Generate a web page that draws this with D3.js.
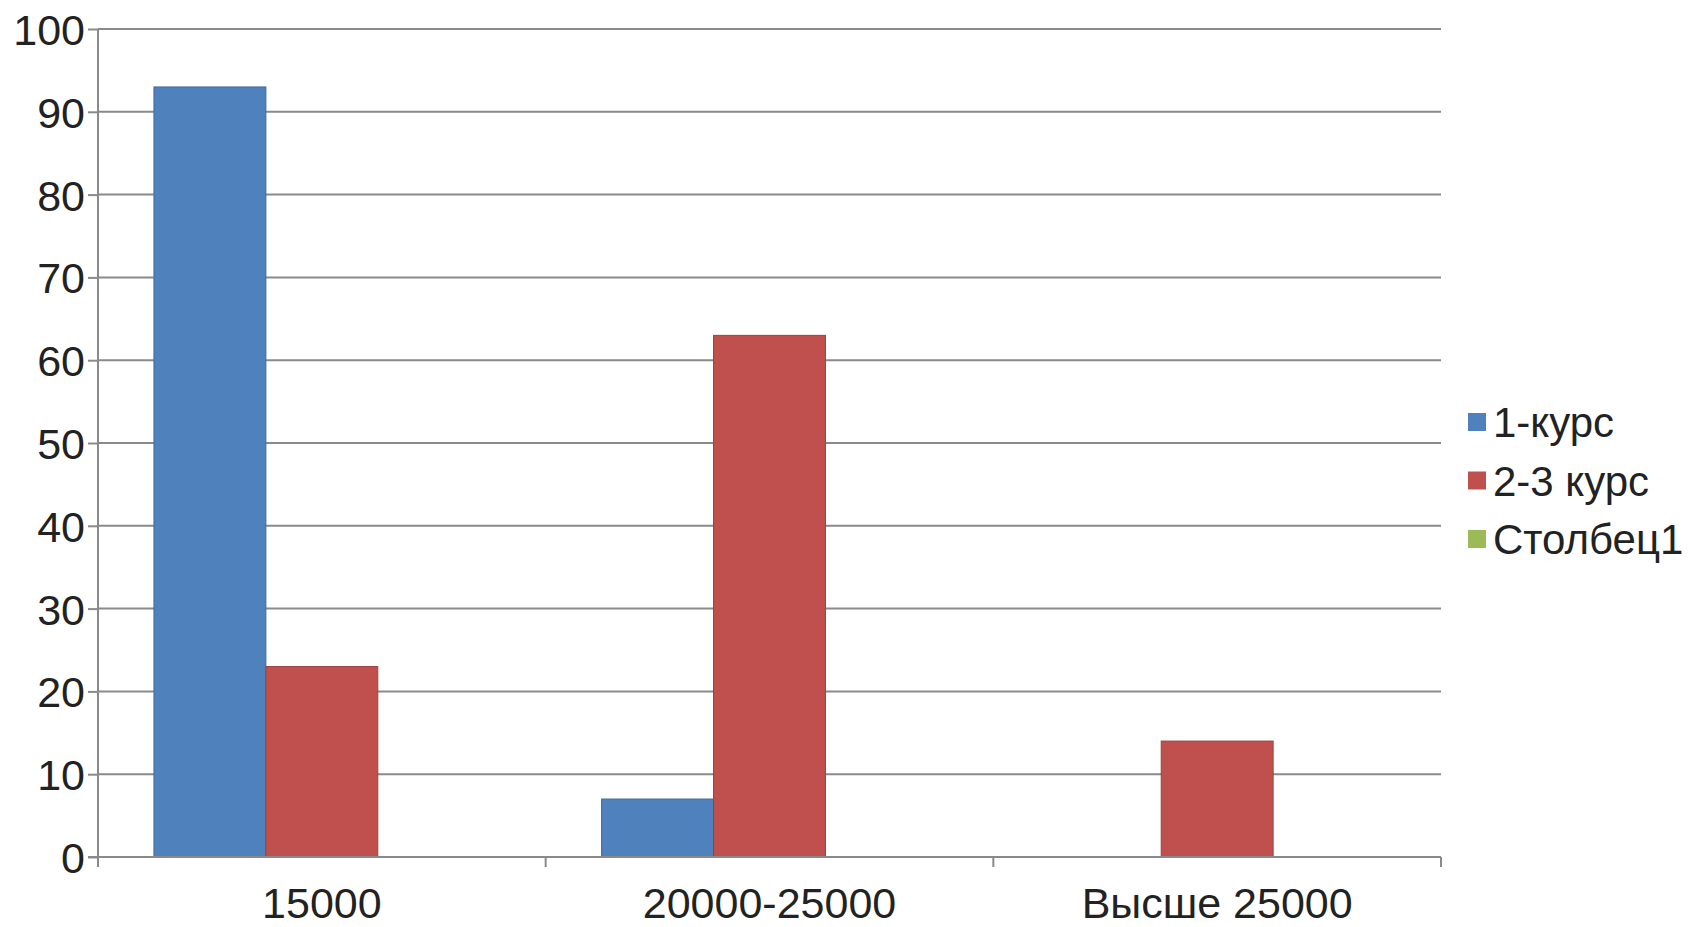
<!DOCTYPE html>
<html><head><meta charset="utf-8">
<script src="https://cdn.jsdelivr.net/npm/d3@7"></script>
<style>body{margin:0;background:#fff}svg{display:block}</style>
</head><body>
<script>
const categories = ["15000", "20000-25000", "Высше 25000"];
const seriesNames = ["1-курс", "2-3 курс", "Столбец1"];
const series1 = [93, 7, 0];
const series2 = [23, 63, 14];
const series3 = [0, 0, 0];
const yTicks = [0, 10, 20, 30, 40, 50, 60, 70, 80, 90, 100];
const colors = ["#4F81BD", "#C0504D", "#9BBB59"];

const W = 1690, H = 927;
const m = {left: 98, right: 249, top: 29, bottom: 70};
const font = "'Liberation Sans', Arial, sans-serif";
const svg = d3.select("body").append("svg").attr("width", W).attr("height", H);

const x = d3.scaleBand().domain(categories).range([m.left, W - m.right]).paddingInner(0).paddingOuter(0);
const y = d3.scaleLinear().domain([0, 100]).range([H - m.bottom, m.top]);

// gridlines
svg.append("g").selectAll("line").data(yTicks.slice(1)).join("line")
  .attr("x1", m.left).attr("x2", W - m.right)
  .attr("y1", d => y(d)).attr("y2", d => y(d))
  .attr("stroke", "#8a8a8a").attr("stroke-width", 2);

// bars
const data = [series1, series2, series3];
const barW = x.bandwidth() / 4;
categories.forEach((c, i) => {
  data.forEach((s, j) => {
    if (s[i] <= 0) return;
    svg.append("rect")
      .attr("x", x(c) + barW / 2 + j * barW)
      .attr("y", y(s[i]))
      .attr("width", barW)
      .attr("height", y(0) - y(s[i]))
      .attr("fill", colors[j])
      .attr("stroke", d3.color(colors[j]).darker(0.6))
      .attr("stroke-width", 1);
  });
});

// y axis
const yAxis = d3.axisLeft(y).tickValues(yTicks).tickSize(10).tickPadding(3);
const gy = svg.append("g").attr("transform", `translate(${m.left},0)`).call(yAxis);
gy.select(".domain").attr("stroke", "#8a8a8a").attr("stroke-width", 2).attr("d", `M0,${y(0)}V${y(100)}`);
gy.selectAll(".tick line").attr("stroke", "#8a8a8a").attr("stroke-width", 2);
gy.selectAll(".tick text").attr("font-family", font).attr("font-size", 43).attr("fill", "#222").attr("dy", "0.36em");

// x axis
const xAxis = d3.axisBottom(x).tickSize(0).tickPadding(30);
const gx = svg.append("g").attr("transform", `translate(0,${y(0)})`).call(xAxis);
gx.select(".domain").attr("stroke", "#8a8a8a").attr("stroke-width", 2).attr("d", `M${m.left - 10},0H${W - m.right}`);
gx.selectAll(".tick text").attr("font-family", font).attr("font-size", 43).attr("fill", "#222").attr("dy", "0.71em");
// category boundary ticks
const bounds = categories.map(c => x(c)).concat([x(categories[categories.length - 1]) + x.bandwidth()]);
gx.append("g").selectAll("line").data(bounds).join("line")
  .attr("x1", d => d).attr("x2", d => d).attr("y1", 0).attr("y2", 10)
  .attr("stroke", "#8a8a8a").attr("stroke-width", 2);

// legend
const lg = svg.append("g").attr("transform", `translate(1468,422)`);
seriesNames.forEach((n, i) => {
  const g = lg.append("g").attr("transform", `translate(0,${i * 58.5})`);
  g.append("rect").attr("x", 0).attr("y", -9).attr("width", 18).attr("height", 18).attr("fill", colors[i]);
  g.append("text").attr("x", 25).attr("y", 0).attr("dy", "0.36em")
    .attr("font-family", font).attr("font-size", 42).attr("fill", "#222").text(n);
});
</script>
</body></html>
